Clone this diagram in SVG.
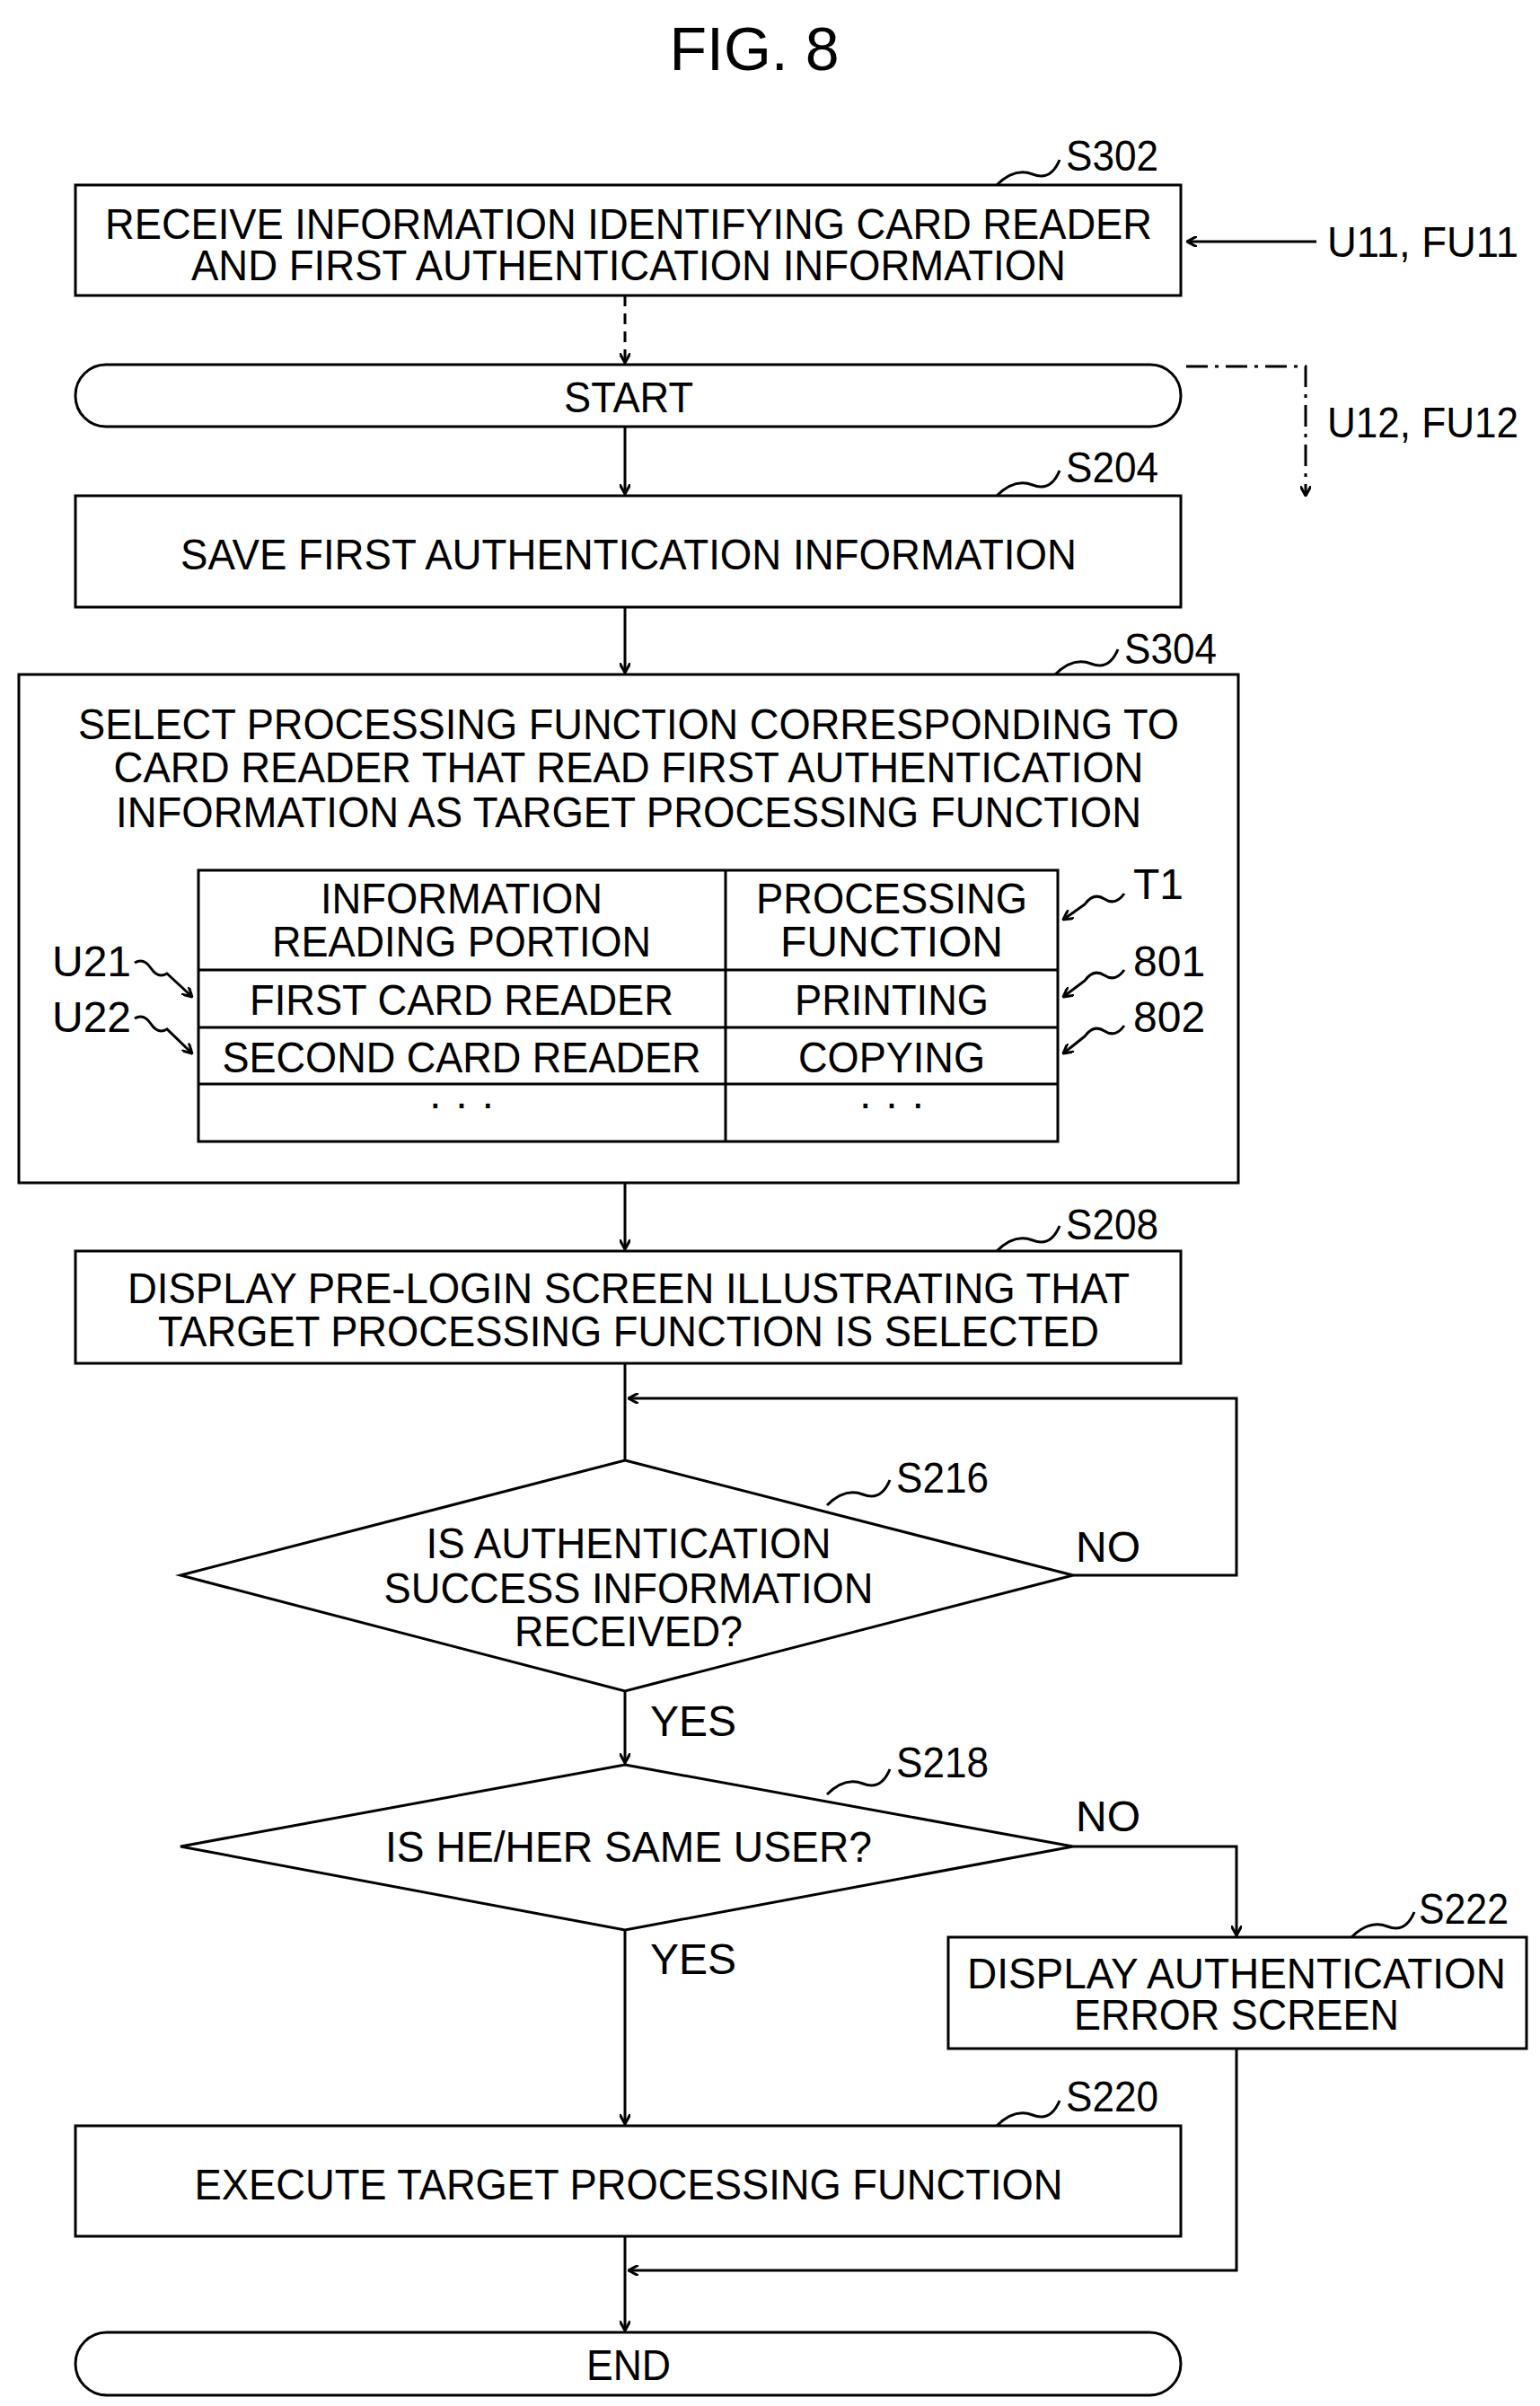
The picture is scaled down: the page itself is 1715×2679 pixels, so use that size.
<svg xmlns="http://www.w3.org/2000/svg" width="1715" height="2679" viewBox="0 0 1715 2679">
<style>
.b{fill:#fff;stroke:#000;stroke-width:3}
.l{fill:none;stroke:#000;stroke-width:3}
text{font-family:"Liberation Sans",Arial,sans-serif;font-size:48px;fill:#000}
.c{text-anchor:middle}
</style>
<defs>
<marker id="a" markerWidth="12" markerHeight="12" refX="11" refY="6" orient="auto" markerUnits="userSpaceOnUse"><path d="M0,0 L11,6 L0,12" fill="none" stroke="#000" stroke-width="3"/></marker>
</defs>
<rect width="1715" height="2679" fill="#fff"/>
<text class="c" x="840" y="78" style="font-size:68px">FIG. 8</text>

<g id="S302"><rect class="b" x="84" y="206" width="1231" height="123"/>
<text class="c" x="700" y="266" textLength="1166" lengthAdjust="spacingAndGlyphs">RECEIVE INFORMATION IDENTIFYING CARD READER</text>
<text class="c" x="700" y="312" textLength="974" lengthAdjust="spacingAndGlyphs">AND FIRST AUTHENTICATION INFORMATION</text>
<path class="l" d="M1110,206 q20,-20 40,-12 q20,8 30,-16"/><text x="1187" y="190" textLength="103" lengthAdjust="spacingAndGlyphs">S302</text></g>

<g id="START"><rect class="b" x="84" y="406" width="1231" height="69" rx="34"/>
<text class="c" x="700" y="459" textLength="144" lengthAdjust="spacingAndGlyphs">START</text></g>

<g id="S204"><rect class="b" x="84" y="552" width="1231" height="124"/>
<text class="c" x="700" y="634" textLength="998" lengthAdjust="spacingAndGlyphs">SAVE FIRST AUTHENTICATION INFORMATION</text>
<path class="l" d="M1110,552 q20,-20 40,-12 q20,8 30,-16"/><text x="1187" y="537" textLength="103" lengthAdjust="spacingAndGlyphs">S204</text></g>

<g id="S304"><rect class="b" x="21" y="751" width="1358" height="566"/>
<text class="c" x="700" y="823" textLength="1226" lengthAdjust="spacingAndGlyphs">SELECT PROCESSING FUNCTION CORRESPONDING TO</text>
<text class="c" x="700" y="871" textLength="1147" lengthAdjust="spacingAndGlyphs">CARD READER THAT READ FIRST AUTHENTICATION</text>
<text class="c" x="700" y="921" textLength="1142" lengthAdjust="spacingAndGlyphs">INFORMATION AS TARGET PROCESSING FUNCTION</text>
<path class="l" d="M1175,751 q20,-20 40,-12 q20,8 30,-16"/><text x="1252" y="739" textLength="103" lengthAdjust="spacingAndGlyphs">S304</text>
<rect class="b" x="221" y="969" width="957" height="302"/>
<path class="l" d="M808,969 V1271 M221,1080 H1178 M221,1144 H1178 M221,1207 H1178"/>
<text class="c" x="514" y="1017" textLength="314" lengthAdjust="spacingAndGlyphs">INFORMATION</text>
<text class="c" x="514" y="1065" textLength="422" lengthAdjust="spacingAndGlyphs">READING PORTION</text>
<text class="c" x="993" y="1017" textLength="302" lengthAdjust="spacingAndGlyphs">PROCESSING</text>
<text class="c" x="993" y="1065">FUNCTION</text>
<text class="c" x="514" y="1130" textLength="472" lengthAdjust="spacingAndGlyphs">FIRST CARD READER</text>
<text class="c" x="993" y="1130" textLength="216" lengthAdjust="spacingAndGlyphs">PRINTING</text>
<text class="c" x="514" y="1194" textLength="533" lengthAdjust="spacingAndGlyphs">SECOND CARD READER</text>
<text class="c" x="993" y="1194" textLength="208" lengthAdjust="spacingAndGlyphs">COPYING</text>
<text class="c" x="514" y="1245">· · ·</text><text class="c" x="993" y="1245">· · ·</text>
<text x="1262" y="1001">T1</text>
<text x="1262" y="1087">801</text>
<text x="1262" y="1149">802</text>
<text x="58" y="1087">U21</text>
<text x="58" y="1149">U22</text>
<path class="l" marker-end="url(#a)" d="M1252,995 q-10,14 -22,6 q-12,-8 -22,6 L1184,1024"/>
<path class="l" marker-end="url(#a)" d="M1252,1080 q-10,14 -22,6 q-12,-8 -22,6 L1184,1110"/>
<path class="l" marker-end="url(#a)" d="M1252,1142 q-10,14 -22,6 q-12,-8 -22,6 L1184,1173"/>
<path class="l" marker-end="url(#a)" d="M150,1072 q10,-6 18,6 q8,12 18,6 L214,1110"/>
<path class="l" marker-end="url(#a)" d="M150,1134 q10,-6 18,6 q8,12 18,6 L214,1173"/></g>

<g id="S208"><rect class="b" x="84" y="1393" width="1231" height="125"/>
<text class="c" x="700" y="1451" textLength="1116" lengthAdjust="spacingAndGlyphs">DISPLAY PRE-LOGIN SCREEN ILLUSTRATING THAT</text>
<text class="c" x="700" y="1499" textLength="1048" lengthAdjust="spacingAndGlyphs">TARGET PROCESSING FUNCTION IS SELECTED</text>
<path class="l" d="M1110,1393 q20,-20 40,-12 q20,8 30,-16"/><text x="1187" y="1380" textLength="103" lengthAdjust="spacingAndGlyphs">S208</text></g>

<g id="S216"><polygon class="b" points="696,1626 1195,1754 696,1883 201,1754"/>
<text class="c" x="700" y="1735" textLength="451" lengthAdjust="spacingAndGlyphs">IS AUTHENTICATION</text>
<text class="c" x="700" y="1785" textLength="545" lengthAdjust="spacingAndGlyphs">SUCCESS INFORMATION</text>
<text class="c" x="700" y="1833" textLength="254" lengthAdjust="spacingAndGlyphs">RECEIVED?</text>
<path class="l" d="M921,1676 q20,-20 40,-12 q20,8 30,-16"/><text x="998" y="1662" textLength="103" lengthAdjust="spacingAndGlyphs">S216</text></g>

<g id="S218"><polygon class="b" points="696,1965 1195,2056 696,2149 201,2056"/>
<text class="c" x="700" y="2073" textLength="542" lengthAdjust="spacingAndGlyphs">IS HE/HER SAME USER?</text>
<path class="l" d="M921,1998 q20,-20 40,-12 q20,8 30,-16"/><text x="998" y="1979" textLength="103" lengthAdjust="spacingAndGlyphs">S218</text></g>

<g id="S222"><rect class="b" x="1056" y="2157" width="644" height="124"/>
<text class="c" x="1377" y="2214" textLength="600" lengthAdjust="spacingAndGlyphs">DISPLAY AUTHENTICATION</text>
<text class="c" x="1377" y="2260" textLength="362" lengthAdjust="spacingAndGlyphs">ERROR SCREEN</text>
<path class="l" d="M1505,2157 q20,-20 40,-12 q20,8 30,-16"/><text x="1580" y="2142" textLength="100" lengthAdjust="spacingAndGlyphs">S222</text></g>

<g id="S220"><rect class="b" x="84" y="2367" width="1231" height="123"/>
<text class="c" x="700" y="2449" textLength="967" lengthAdjust="spacingAndGlyphs">EXECUTE TARGET PROCESSING FUNCTION</text>
<path class="l" d="M1110,2367 q20,-20 40,-12 q20,8 30,-16"/><text x="1187" y="2351" textLength="103" lengthAdjust="spacingAndGlyphs">S220</text></g>

<g id="END"><rect class="b" x="84" y="2597" width="1231" height="70" rx="35"/>
<text class="c" x="700" y="2650" textLength="94" lengthAdjust="spacingAndGlyphs">END</text></g>

<g id="connectors">
<path class="l" marker-end="url(#a)" d="M1466,269 H1322"/>
<text x="1478" y="286" textLength="213" lengthAdjust="spacingAndGlyphs">U11, FU11</text>
<path class="l" marker-end="url(#a)" stroke-dasharray="12,8" d="M696,329 V404"/>
<path class="l" marker-end="url(#a)" stroke-dasharray="24,8,4,8" d="M1321,408 H1454 V552"/>
<text x="1478" y="487" textLength="213" lengthAdjust="spacingAndGlyphs">U12, FU12</text>
<path class="l" marker-end="url(#a)" d="M696,475 V550"/>
<path class="l" marker-end="url(#a)" d="M696,676 V749"/>
<path class="l" marker-end="url(#a)" d="M696,1317 V1391"/>
<path class="l" d="M696,1518 V1626"/>
<path class="l" marker-end="url(#a)" d="M1195,1754 H1377 V1557 H700"/>
<text x="1198" y="1739">NO</text>
<path class="l" marker-end="url(#a)" d="M696,1883 V1963"/>
<text x="724" y="1933">YES</text>
<path class="l" marker-end="url(#a)" d="M1195,2056 H1377 V2155"/>
<text x="1198" y="2039">NO</text>
<path class="l" marker-end="url(#a)" d="M696,2149 V2365"/>
<text x="724" y="2198">YES</text>
<path class="l" marker-end="url(#a)" d="M1377,2281 V2528 H700"/>
<path class="l" marker-end="url(#a)" d="M696,2490 V2595"/>
</g>
</svg>
